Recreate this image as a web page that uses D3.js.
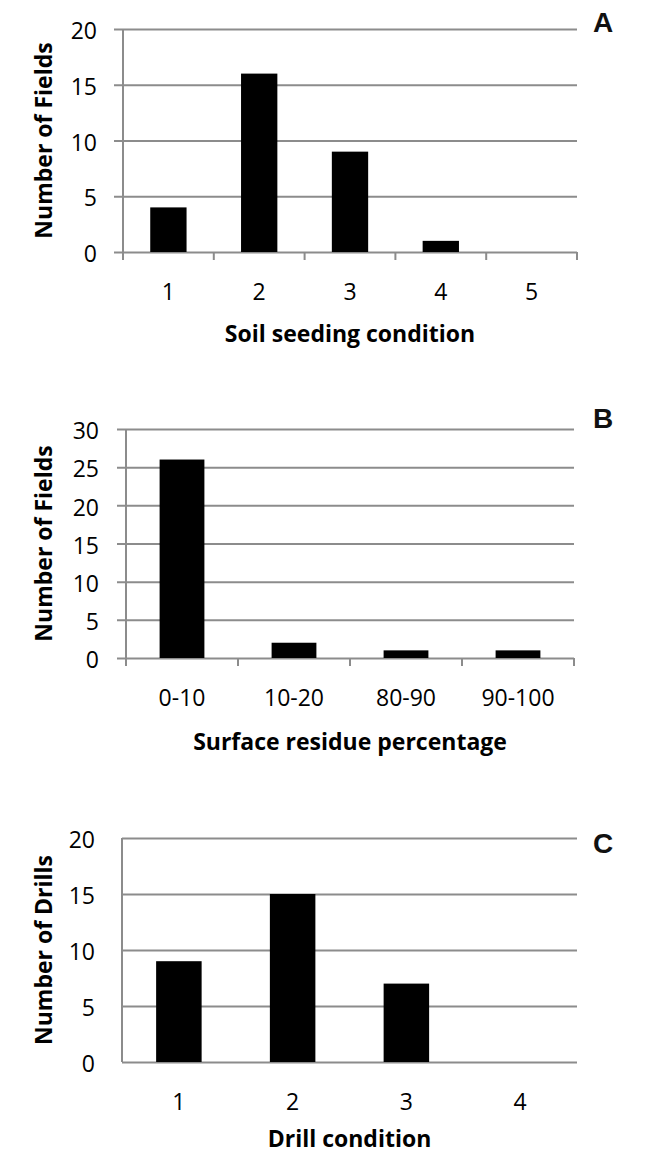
<!DOCTYPE html>
<html>
<head>
<meta charset="utf-8">
<script src="https://cdn.jsdelivr.net/npm/d3@7"></script>
<style>
  body { margin: 0; background: #fff; }
  svg { display: block; }
  .tick text { font-family: "Open Sans", Lato, sans-serif; font-size: 23px; fill: #000; }
  .title { font-family: "Open Sans", Lato, sans-serif; font-size: 23px; font-weight: bold; fill: #000; }
  .letter { font-family: "Liberation Sans", Arial, sans-serif; font-size: 28px; font-weight: bold; fill: #111; }
</style>
</head>
<body>
<svg width="651" height="1154"></svg>
<script>
// data
const catsA = ["1", "2", "3", "4", "5"];
const valsA = [4, 16, 9, 1, 0];
const ticksA = [0, 5, 10, 15, 20];

const catsB = ["0-10", "10-20", "80-90", "90-100"];
const valsB = [26, 2, 1, 1];
const ticksB = [0, 5, 10, 15, 20, 25, 30];

const catsC = ["1", "2", "3", "4"];
const valsC = [9, 15, 7, 0];
const ticksC = [0, 5, 10, 15, 20];

const gridColor = "#8c8c8c";

let svg = d3.select("svg");

// one panel = one small bar chart
function drawPanel(o) {
  let x = d3.scaleBand()
    .domain(o.cats)
    .range([o.left, o.right])
    .paddingInner(0.6)
    .paddingOuter(0.3);
  let y = d3.scaleLinear()
    .domain([0, d3.max(o.ticks)])
    .range([o.bottom, o.top]);

  let g = svg.append("g");
  let out = o.ticksOut ? 9 : 0;

  // y axis labels + gridlines
  let yAx = g.append("g")
    .attr("transform", "translate(" + o.left + ",0)")
    .call(d3.axisLeft(y).tickValues(o.ticks).tickSize(0).tickPadding(o.labelGap));
  yAx.select(".domain").remove();
  yAx.selectAll(".tick text").attr("dy", "0.42em");
  yAx.selectAll(".tick line")
    .attr("x1", -out)
    .attr("x2", o.right - o.left)
    .attr("stroke", gridColor)
    .attr("stroke-width", 2);

  // vertical axis line
  g.append("line")
    .attr("x1", o.left).attr("x2", o.left)
    .attr("y1", y(d3.max(o.ticks))).attr("y2", o.bottom + out * 0.8)
    .attr("stroke", gridColor).attr("stroke-width", 2);

  // tick marks between categories
  if (o.ticksOut) {
    let edges = o.cats.map(c => x(c) - (x.step() - x.bandwidth()) / 2);
    edges.push(o.right);
    g.selectAll(".xtick").data(edges).enter().append("line")
      .attr("x1", d => d).attr("x2", d => d)
      .attr("y1", o.bottom).attr("y2", o.bottom + 8)
      .attr("stroke", gridColor).attr("stroke-width", 2);
  }

  // bars
  g.selectAll(".bar").data(o.vals).enter().append("rect")
    .attr("x", (d, i) => x(o.cats[i]))
    .attr("y", d => y(d))
    .attr("width", x.bandwidth())
    .attr("height", d => o.bottom - y(d))
    .attr("fill", "#000");

  // x category labels
  let xAx = g.append("g")
    .attr("transform", "translate(0," + o.bottom + ")")
    .call(d3.axisBottom(x).tickSize(0).tickPadding(0));
  xAx.select(".domain").remove();
  xAx.selectAll(".tick text").attr("dy", null).attr("y", o.catBase - o.bottom);

  // titles
  g.append("text").attr("class", "title")
    .attr("text-anchor", "middle")
    .attr("x", (o.left + o.right) / 2)
    .attr("y", o.xTitleBase)
    .text(o.xTitle);
  g.append("text").attr("class", "title")
    .attr("text-anchor", "middle")
    .attr("transform", "translate(52," + (o.top + o.bottom) / 2 + ") rotate(-90)")
    .text(o.yTitle);

  g.append("text").attr("class", "letter")
    .attr("x", 593).attr("y", o.letterBase)
    .text(o.letter);
}

drawPanel({cats: catsA, vals: valsA, ticks: ticksA, left: 123, right: 577, top: 29, bottom: 252,
  ticksOut: true, labelGap: 26, catBase: 300, xTitleBase: 342, xTitle: "Soil seeding condition",
  yTitle: "Number of Fields", letter: "A", letterBase: 32});
drawPanel({cats: catsB, vals: valsB, ticks: ticksB, left: 126, right: 574, top: 429, bottom: 658,
  ticksOut: true, labelGap: 27, catBase: 706, xTitleBase: 750, xTitle: "Surface residue percentage",
  yTitle: "Number of Fields", letter: "B", letterBase: 428});
drawPanel({cats: catsC, vals: valsC, ticks: ticksC, left: 122, right: 577, top: 838, bottom: 1062,
  ticksOut: false, labelGap: 27, catBase: 1110, xTitleBase: 1147, xTitle: "Drill condition",
  yTitle: "Number of Drills", letter: "C", letterBase: 853});
</script>
</body>
</html>
